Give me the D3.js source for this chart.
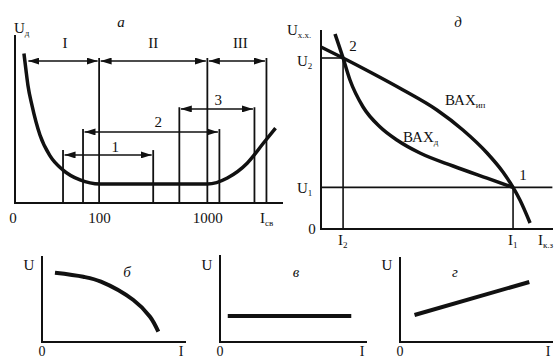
<!DOCTYPE html>
<html>
<head>
<meta charset="utf-8">
<script src="https://cdn.jsdelivr.net/npm/d3@7"></script>
<style>
  body { margin: 0; background: #fff; }
  svg { display: block; }
</style>
</head>
<body>
<script>
// PANEL A: arc voltage vs current (log current axis)
const aCurveI = [20.2, 21.1, 22.0, 24.0, 28.4, 35.2, 46.4, 66.7, 102, 1000, 1531, 2344, 3302, 4266]
const aCurveU = [89, 79, 70, 58, 40.5, 28, 19.6, 13.7, 11.3, 11.3, 14.9, 23.8, 35.7, 44.6]
const aTicks = [100, 1000]
const aLineI = [46.4, 71, 100, 316, 551, 1000, 1292, 2724, 3516]
const aLineTop = [31.5, 44, 86.3, 31.5, 57, 86.3, 44, 57, 86.3]
const arrFrom = [21.5, 100, 1000, 551, 71, 46.4]
const arrTo = [100, 1000, 3516, 2724, 1292, 316]
const arrU = [84.5, 84.5, 84.5, 56, 42.3, 28.6]
const arrLabel = ['I', 'II', 'III', '3', '2', '1']
const arrLabelI = [48.4, 316, 2019, 1263, 352, 141]
const arrLabelU = [92.3, 92.3, 92.3, 58.3, 45.2, 30.4]

// PANEL D: source and arc characteristics
const dSourceI = [0, 9.6, 21.3, 35.7, 50.4, 61.7, 72.2, 79.1, 83.5, 86.5, 90.9]
const dSourceU = [91, 85.5, 78.5, 69.5, 59.5, 49.5, 38, 28.5, 20.8, 14.5, 3]
const dArcI = [6.1, 9.6, 12.6, 18.3, 25.7, 33, 43, 57.4, 72.2, 83.5]
const dArcU = [97.5, 85.5, 74.5, 61, 51, 44.5, 38, 31.5, 25.4, 20.8]
const dPointI = [83.5, 9.6]
const dPointU = [20.8, 85.5]
const dPointLabel = ['1', '2']

// SMALL PANELS б, в, г
const bCurveI = [9.2, 29.3, 41.8, 64.8, 76.6, 82.5]
const bCurveU = [80.6, 75.9, 70.2, 48.8, 29.4, 12]
const vLineI = [5.5, 93.1]
const vLineU = [30.2, 30.2]
const gLineI = [10.3, 91.7]
const gLineU = [31.4, 69.8]

const SERIF = '"Liberation Serif", "DejaVu Serif", serif'

const svg = d3.select('body').append('svg')
  .attr('width', 555)
  .attr('height', 358)
  .attr('font-family', SERIF)

// ARROW MARKER
svg.append('defs').append('marker')
  .attr('id', 'arr')
  .attr('markerUnits', 'userSpaceOnUse')
  .attr('markerWidth', 11)
  .attr('markerHeight', 7)
  .attr('refX', 11)
  .attr('refY', 3.5)
  .attr('orient', 'auto-start-reverse')
  .append('path')
  .attr('d', 'M0,0 L11,3.5 L0,7 z')
  .attr('fill', '#111')

function sublabel(g, x, y, main, sub, anchor, italic) {
  const t = g.append('text')
    .attr('x', x)
    .attr('y', y)
    .attr('text-anchor', anchor || 'start')
    .attr('font-size', 15)
    .attr('fill', '#111')
  if (italic) t.attr('font-style', 'italic')
  t.append('tspan').text(main)
  if (sub) t.append('tspan').attr('font-size', 9).attr('dy', 2.5).text(sub)
  return t
}

function axesL(g, x0, y0, xTop, xEnd) {
  g.append('path')
    .attr('d', 'M' + x0 + ',' + xTop + ' L' + x0 + ',' + y0 + ' L' + xEnd + ',' + y0)
    .attr('fill', 'none')
    .attr('stroke', '#111')
    .attr('stroke-width', 2)
}

// ---------- PANEL A ----------
var xA = d3.scaleLog().domain([16.7, 5000]).range([15, 283])
var yA = d3.scaleLinear().domain([0, 100]).range([203, 35])
var gA = svg.append('g')

aLineI.forEach(function(d, i) {
  gA.append('line')
    .attr('x1', xA(d)).attr('x2', xA(d))
    .attr('y1', yA(0)).attr('y2', yA(aLineTop[i]))
    .attr('stroke', '#111')
    .attr('stroke-width', 1.8)
})

arrFrom.forEach(function(d, i) {
  gA.append('line')
    .attr('x1', xA(d) + 1.5).attr('x2', xA(arrTo[i]) - 1.5)
    .attr('y1', yA(arrU[i])).attr('y2', yA(arrU[i]))
    .attr('stroke', '#111')
    .attr('stroke-width', 1.5)
    .attr('marker-start', 'url(#arr)')
    .attr('marker-end', 'url(#arr)')
  gA.append('text')
    .attr('x', xA(arrLabelI[i]))
    .attr('y', yA(arrLabelU[i]))
    .attr('text-anchor', 'middle')
    .attr('font-size', 15)
    .attr('fill', '#111')
    .text(arrLabel[i])
})

var lineA = d3.line()
  .x(function(d, i) { return xA(aCurveI[i]) })
  .y(function(d) { return yA(d) })
  .curve(d3.curveMonotoneX)

gA.append('path')
  .datum(aCurveU)
  .attr('d', lineA)
  .attr('fill', 'none')
  .attr('stroke', '#111')
  .attr('stroke-width', 3.5)

axesL(gA, 15, 203, 35, 283)

gA.append('g')
  .attr('transform', 'translate(0,203)')
  .call(d3.axisBottom(xA).tickValues(aTicks).tickSize(0).tickPadding(9).tickFormat(d3.format('d')))
  .call(function(g) { g.select('.domain').remove() })
  .selectAll('text')
  .attr('font-family', SERIF)
  .attr('font-size', 15)
  .attr('fill', '#111')

sublabel(gA, 13, 223, '0', null, 'middle')
sublabel(gA, 260, 223, 'I', 'св')
sublabel(gA, 14, 33, 'U', 'д')
sublabel(gA, 121, 27, 'а', null, 'middle', true)

// ---------- PANEL D ----------
var xD = d3.scaleLinear().domain([0, 100]).range([321, 551])
var yD = d3.scaleLinear().domain([0, 100]).range([229, 29])
var gD = svg.append('g')

function thin(x1, y1, x2, y2) {
  gD.append('line')
    .attr('x1', x1).attr('y1', y1).attr('x2', x2).attr('y2', y2)
    .attr('stroke', '#111')
    .attr('stroke-width', 1.6)
}
// point 2 guides
thin(xD(0), yD(dPointU[1]), xD(dPointI[1]), yD(dPointU[1]))
thin(xD(dPointI[1]), yD(0), xD(dPointI[1]), yD(dPointU[1]))
// point 1 guides
thin(xD(0), yD(dPointU[0]), xD(100.6), yD(dPointU[0]))
thin(xD(dPointI[0]), yD(0), xD(dPointI[0]), yD(dPointU[0]))

var lineD = d3.line()
  .x(function(d) { return xD(d[0]) })
  .y(function(d) { return yD(d[1]) })
  .curve(d3.curveMonotoneX)

gD.append('path')
  .datum(d3.zip(dSourceI, dSourceU))
  .attr('d', lineD)
  .attr('fill', 'none')
  .attr('stroke', '#111')
  .attr('stroke-width', 3.5)

gD.append('path')
  .datum(d3.zip(dArcI, dArcU))
  .attr('d', lineD)
  .attr('fill', 'none')
  .attr('stroke', '#111')
  .attr('stroke-width', 3.5)

axesL(gD, 321, 229, 30, 553)

dPointLabel.forEach(function(d, i) {
  gD.append('text')
    .attr('x', xD(dPointI[i]) + 10)
    .attr('y', yD(dPointU[i]) - 7)
    .attr('text-anchor', 'middle')
    .attr('font-size', 15)
    .attr('fill', '#111')
    .text(d)
})

sublabel(gD, 445, 105, 'ВАХ', 'ип')
sublabel(gD, 403, 142, 'ВАХ', 'д')
sublabel(gD, 287, 35, 'U', 'х.х.')
sublabel(gD, 297, 66, 'U', '2')
sublabel(gD, 297, 193, 'U', '1')
sublabel(gD, 312, 234, '0', null, 'middle')
sublabel(gD, xD(dPointI[1]) - 5, 245, 'I', '2')
sublabel(gD, xD(dPointI[0]) - 5, 245, 'I', '1')
sublabel(gD, 538, 245, 'I', 'к.з')
sublabel(gD, 458, 27, 'д', null, 'middle', true)

// ---------- SMALL PANELS ----------
function smallPanel(ox, xEnd, yTop, I, U, curve, letter, letterX) {
  var x = d3.scaleLinear().domain([0, 100]).range([ox, ox + 141])
  var y = d3.scaleLinear().domain([0, 100]).range([342, 256])
  var g = svg.append('g')
  g.append('path')
    .datum(d3.zip(I, U))
    .attr('d', d3.line().x(function(d) { return x(d[0]) }).y(function(d) { return y(d[1]) }).curve(curve))
    .attr('fill', 'none')
    .attr('stroke', '#111')
    .attr('stroke-width', 4)
  axesL(g, ox, 342, yTop, xEnd)
  sublabel(g, ox - 13, 270, 'U', null, 'middle')
  sublabel(g, ox, 356, '0', null, 'middle').attr('font-size', 14)
  sublabel(g, xEnd - 5, 356, 'I', null, 'middle').attr('font-size', 14)
  sublabel(g, letterX, 277, letter, null, 'middle', true)
}

smallPanel(42, 186, 256, bCurveI, bCurveU, d3.curveCatmullRom, 'б', 127)
smallPanel(220, 367, 255, vLineI, vLineU, d3.curveLinear, 'в', 296)
smallPanel(400, 553, 257, gLineI, gLineU, d3.curveLinear, 'г', 455)
</script>
</body>
</html>
